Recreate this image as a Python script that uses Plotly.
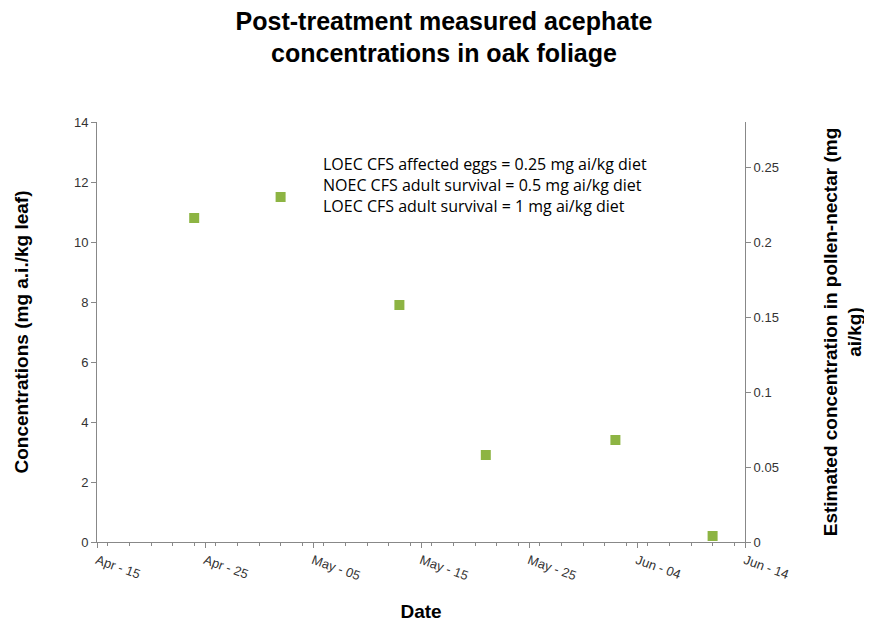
import plotly.graph_objects as go

dates = ["2013-04-24", "2013-05-02", "2013-05-13", "2013-05-21", "2013-06-02", "2013-06-11"]
conc = [10.8, 11.5, 7.9, 2.9, 3.4, 0.2]
tick_dates = ["2013-04-15", "2013-04-25", "2013-05-05", "2013-05-15", "2013-05-25", "2013-06-04", "2013-06-14"]
tick_labels = ["Apr - 15", "Apr - 25", "May - 05", "May - 15", "May - 25", "Jun - 04", "Jun - 14"]

fig = go.Figure()
fig.add_trace(go.Scatter(x=dates, y=conc, mode="markers",
                         marker=dict(symbol="square", size=10, color="#8DB443"), showlegend=False))
fig.add_trace(go.Scatter(x=[dates[0]], y=[None], yaxis="y2", showlegend=False, hoverinfo="skip"))

font = "Liberation Sans, Arial, sans-serif"
fig.update_layout(
    width=872, height=627, plot_bgcolor="white", paper_bgcolor="white",
    margin=dict(l=89, r=135, t=114, b=93),
    title=dict(text="<b>Post-treatment measured acephate<br>concentrations in oak foliage</b>",
               x=0.5, xanchor="center", y=0.965, yanchor="top",
               font=dict(family=font, size=25, color="black")),
    xaxis=dict(type="date", range=["2013-04-15", "2013-06-14"], tickvals=tick_dates, ticktext=tick_labels,
               tickangle=20, showgrid=False, showline=True, linecolor="#888", ticks="outside",
               ticklen=5, tickcolor="#888", tickfont=dict(family=font, size=13, color="#333"), automargin=False,
               minor=dict(dtick=2*86400000, ticks="outside", ticklen=3, tickcolor="#888"),
               title=dict(text="<b>Date</b>", font=dict(family=font, size=19, color="black"), standoff=22)),
    yaxis=dict(range=[0, 14], dtick=2, showgrid=False, showline=True, linecolor="#888", ticks="outside",
               tickcolor="#888", ticklen=5, tickfont=dict(family=font, size=13, color="#333"), automargin=False,
               title=dict(text="<b>Concentrations (mg a.i./kg leaf)</b>", standoff=40,
                          font=dict(family=font, size=19, color="black"))),
    yaxis2=dict(range=[0, 0.28], tickvals=[0, 0.05, 0.1, 0.15, 0.2, 0.25],
                ticktext=["0", "0.05", "0.1", "0.15", "0.2", "0.25"], overlaying="y", side="right",
                showgrid=False, showline=True, linecolor="#888", ticks="outside", tickcolor="#888", ticklen=5,
                tickfont=dict(family=font, size=13, color="#333"), automargin=False,
                title=dict(text="<b>Estimated concentration in pollen-nectar (mg<br>ai/kg)</b>", standoff=45,
                           font=dict(family=font, size=19, color="black"))),
    annotations=[dict(xref="paper", yref="paper", x=0.345, y=0.93, xanchor="left", yanchor="top", align="left",
                      showarrow=False,
                      text="LOEC CFS affected eggs = 0.25 mg ai/kg diet<br>NOEC CFS adult survival = 0.5 mg ai/kg diet<br>LOEC CFS adult survival = 1 mg ai/kg diet",
                      font=dict(family="Open Sans, sans-serif", size=16, color="black"))],
)
fig.write_html("out.html")
